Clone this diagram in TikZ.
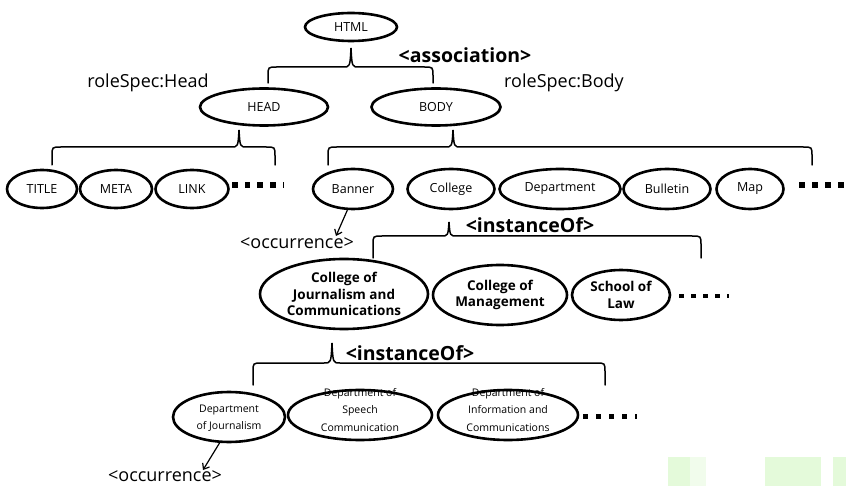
\documentclass[tikz,border=0pt]{standalone}
\usepackage{fontspec}
\setmainfont{Open Sans}
\usetikzlibrary{shapes.geometric,arrows.meta}
\newcommand{\mybrace}[6]{%
  \draw[brc] (#1,#5) -- (#1,#4+9) .. controls (#1,#4) .. (#1+9,#4) -- (#3-8,#4)
    .. controls (#3-1,#4) .. (#3,#6) .. controls (#3+1,#4) .. (#3+8,#4)
    -- (#2-9,#4) .. controls (#2,#4) .. (#2,#4+9) -- (#2,#5);}
\newcommand{\mydots}[5]{% xstart, ycenter, spacing, size, bar(1/0)
  \foreach \i in {0,...,3}{\fill ({#1+\i*#3},{#2-#4/2}) rectangle ++(#4,#4);}
  \ifnum#5=1 \fill ({#1+4*#3},{#2-#4/2}) rectangle ++(1.6,#4);\fi}
\tikzset{
  ell/.style={draw, ellipse, line width=2.6pt, inner sep=0pt},
  brc/.style={line width=1.5pt, line cap=round},
  arr/.style={line width=1.2pt, -{Straight Barb[length=5pt,width=8pt]}},
  t2/.style={font=\fontsize{12.5}{14}\selectfont},
  t3/.style={font=\fontsize{13.5}{16.5}\selectfont\bfseries, align=center},
  t4/.style={font=\fontsize{10.5}{17.5}\selectfont, align=center},
  lab/.style={font=\fontsize{18}{20}\selectfont, inner sep=0pt},
  blab/.style={font=\fontsize{19.5}{22}\selectfont\bfseries, inner sep=0pt},
}
\definecolor{pale}{HTML}{E4FADA}
\begin{document}
\begin{tikzpicture}[x=1pt,y=-1pt]
\useasboundingbox (0,0) rectangle (846,486);
% faint artefacts
\fill[pale] (668,457) rectangle (690,486);
\fill[pale!50] (690,457) rectangle (706,486);
\fill[pale] (765,457) rectangle (821,486);
\fill[pale] (833,457) rectangle (846,486);

% level 0/1
\node[ell, minimum width=92, minimum height=28] (HTML) at (351,27) {};
\node[t2] (HTMLt) at (HTML) {HTML};
\node[ell, minimum width=128, minimum height=37] (HEAD) at (264,107) {};
\node[t2] (HEADt) at (HEAD) {HEAD};
\node[ell, minimum width=129, minimum height=37] (BODY) at (436,107) {};
\node[t2] (BODYt) at (BODY) {BODY};
\node[blab] (assoc) at (465,55) {<association>};
\node[lab] (roleH) at (148,83) {roleSpec:Head};
\node[lab] (roleB) at (564,83) {roleSpec:Body};
\mybrace{268}{433}{351}{67}{83}{48}

% level 2
\node[ell, minimum width=70, minimum height=38] (TITLE) at (42,189) {};
\node[t2] at (TITLE) {TITLE};
\node[ell, minimum width=72, minimum height=38] (META) at (116,189) {};
\node[t2] at (META) {META};
\node[ell, minimum width=73, minimum height=38] (LINK) at (192,189) {};
\node[t2] at (LINK) {LINK};
\mydots{232}{185}{12.7}{5.5}{1}
\mybrace{52}{275}{239}{147}{165}{130}

\node[ell, minimum width=80, minimum height=40] (Banner) at (353,189) {};
\node[t2] at (Banner) {Banner};
\node[ell, minimum width=87, minimum height=40] (College) at (451,189) {};
\node[t2] at (College) {College};
\node[ell, minimum width=121, minimum height=40] (Dept) at (560,189) {};
\node[t2] at (Dept) {Department};
\node[ell, minimum width=87, minimum height=40] (Bull) at (667,189) {};
\node[t2] at (Bull) {Bulletin};
\node[ell, minimum width=67, minimum height=40] (Map) at (750,189) {};
\node[t2] at (Map) {Map};
\mydots{799}{185}{13}{5.5}{0}
\mybrace{328}{812}{453}{147}{165}{130}

% occurrence 1
\node[lab] (occ1) at (297,243) {<occurrence>};
\coordinate (occ1end) at (336,236);
\draw[arr] (Banner.255) -- (occ1end);

% level 3
\node[blab] (inst1) at (530,225) {<instanceOf>};
\mybrace{373}{701}{449}{236}{258}{222}
\node[ell, minimum width=168, minimum height=70] (CJC) at (344,294) {};
\node[t3] at (CJC) {College of\\Journalism and\\Communications};
\node[ell, minimum width=134, minimum height=60] (CoM) at (500,295) {};
\node[t3] at (CoM) {College of\\Management};
\node[ell, minimum width=98, minimum height=50] (SoL) at (621,295) {};
\node[t3] at (SoL) {School of\\Law};
\mydots{679}{296}{12}{4.5}{1}

% level 4
\node[blab] (inst2) at (410,353) {<instanceOf>};
\mybrace{253}{605}{332}{363}{385}{343}
\node[ell, minimum width=112, minimum height=50] (DJ) at (229,417) {};
\node[t4] at (229,418) {Department\\of Journalism};
\node[ell, minimum width=144, minimum height=50] (DSC) at (360,415) {};
\node[t4] at (360,410) {Department of\\Speech\\Communication};
\node[ell, minimum width=140, minimum height=50] (DIC) at (508,415) {};
\node[t4] at (508,410) {Department of\\Information and\\Communications};
\mydots{583}{416}{13}{5}{1}

% occurrence 2
\node[lab] (occ2) at (165,476) {<occurrence>};
\coordinate (occ2end) at (203,470);
\draw[arr] (DJ.250) -- (occ2end);
\end{tikzpicture}
\end{document}
